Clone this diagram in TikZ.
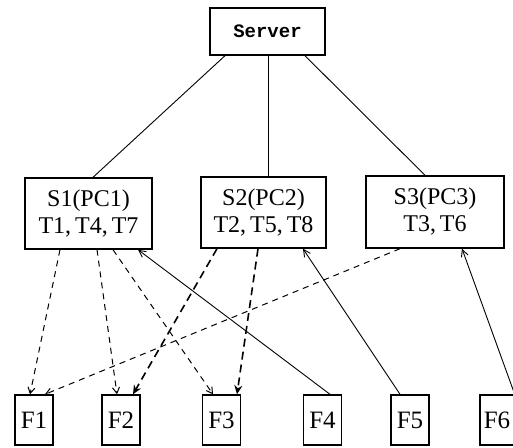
\documentclass[tikz,border=0pt]{standalone}
\usepackage{fontspec}
\setmainfont{Liberation Serif}
\setmonofont{Liberation Mono}
\usepackage{tikz}
\usetikzlibrary{arrows.meta}
\tikzset{
  box/.style={draw, line width=1.4pt, inner sep=0pt, font=\fontsize{24}{27}\selectfont, align=center},
  fbox/.style={box, minimum width=38pt, minimum height=50pt, font=\fontsize{25}{27}\selectfont},
  solidline/.style={draw, line width=0.9pt},
  dashedline/.style={draw, line width=1pt, dash pattern=on 6pt off 5pt, -{Straight Barb[length=6pt,width=7pt]}},
  thickdashed/.style={draw, line width=1.6pt, dash pattern=on 8pt off 5pt, -{Stealth[length=9pt,width=8pt]}},
  uparrow/.style={draw, line width=0.9pt, -{Straight Barb[length=7pt,width=7pt]}},
}
\begin{document}
\begin{tikzpicture}[x=1pt,y=-1pt]
  \useasboundingbox (0,0) rectangle (513,447);
  % top
  \node[box, minimum width=115pt, minimum height=47pt, font=\ttfamily\bfseries\fontsize{19}{20}\selectfont] (server) at (267.5,31.5) {Server};
  % sites
  \node[box, minimum width=127pt, minimum height=71pt] (s1) at (88.5,213.5) {S1(PC1)\\T1,\,T4,\,T7};
  \node[box, minimum width=125pt, minimum height=71pt] (s2) at (263.5,212.5) {S2(PC2)\\T2,\,T5,\,T8};
  \node[box, minimum width=138pt, minimum height=72pt] (s3) at (435,212) {S3(PC3)\\T3,\,T6};
  % fragments
  \node[fbox] (f1) at (34,420) {F1};
  \node[fbox] (f2) at (121,420) {F2};
  \node[fbox] (f3) at (221.5,420) {F3};
  \node[fbox] (f4) at (322.5,420) {F4};
  \node[fbox] (f5) at (410,420) {F5};
  \node[fbox, minimum width=34pt] (f6) at (497,420) {F6};
  % server links
  \draw[solidline] ([xshift=-42.5pt]server.south) -- ([xshift=4.5pt]s1.north);
  \draw[solidline] ([xshift=0.5pt]server.south) -- ([xshift=4.5pt]s2.north);
  \draw[solidline] ([xshift=37.5pt]server.south) -- ([xshift=-10pt]s3.north);
  % dashed allocations
  \draw[dashedline] ([xshift=-28.5pt]s1.south) -- ([xshift=-4pt]f1.north);
  \draw[dashedline] ([xshift=8.5pt]s1.south) -- ([xshift=-4pt]f2.north);
  \draw[dashedline] ([xshift=24.5pt]s1.south) -- ([xshift=-8.5pt]f3.north);
  \draw[thickdashed] ([xshift=-46.5pt]s2.south) -- ([xshift=12pt]f2.north);
  \draw[thickdashed] ([xshift=-5.5pt]s2.south) -- ([xshift=15.5pt]f3.north);
  \draw[dashedline] ([xshift=-35pt]s3.south) -- ([xshift=11pt]f1.north);
  % solid returns
  \draw[uparrow] ([xshift=7.5pt]f4.north) -- ([xshift=49.5pt]s1.south);
  \draw[uparrow] ([xshift=-10pt]f5.north) -- ([xshift=39.5pt]s2.south);
  \draw[uparrow] (f6.north east) -- ([xshift=27pt]s3.south);
\end{tikzpicture}
\end{document}
